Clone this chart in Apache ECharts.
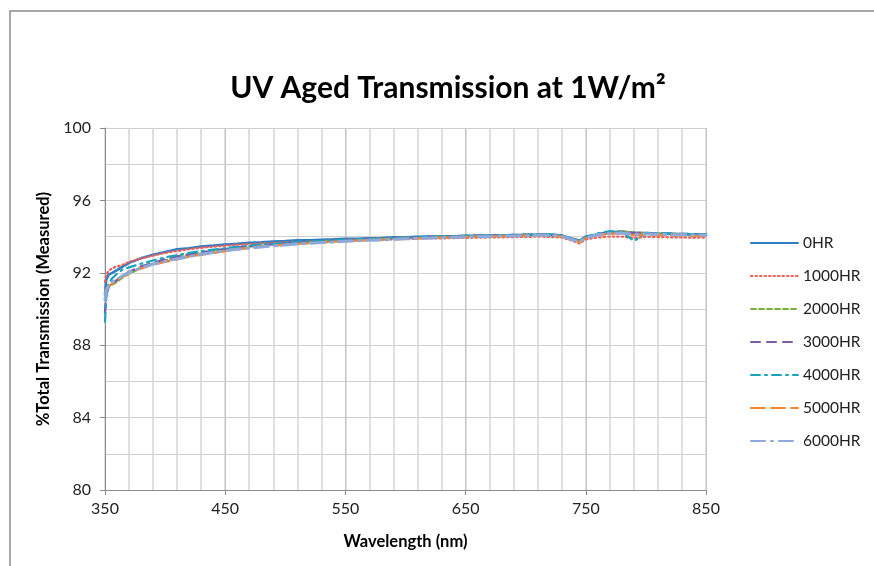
<!DOCTYPE html>
<html lang="en">
<head>
    <meta charset="UTF-8">
    <title>UV Aged Transmission</title>
    <script src="https://cdn.jsdelivr.net/npm/echarts@6/dist/echarts.min.js"></script>
    <style>
        html, body { margin: 0; padding: 0; background: #fff; }
        #main { width: 874px; height: 566px; }
    </style>
</head>
<body>
<div id="main"></div>
<script>
    // wavelength (nm)
    var wavelength = [350, 351, 353, 356, 360, 365, 370, 380, 390, 400, 410, 420, 430, 440, 450, 460, 470, 480, 490, 500,
        510, 520, 530, 540, 550, 560, 570, 580, 590, 600, 610, 620, 630, 640, 650, 660, 670, 680, 690, 700,
        710, 720, 730, 740, 745, 750, 760, 770, 780, 790, 800, 810, 820, 830, 840, 850];

    var hr0 = [90.8, 91.6, 91.9, 92.0, 92.15, 92.35, 92.55, 92.8, 93.0, 93.15, 93.3, 93.36, 93.45, 93.5, 93.56, 93.6, 93.66, 93.68, 93.73, 93.75,
        93.79, 93.8, 93.83, 93.85, 93.88, 93.88, 93.91, 93.92, 93.96, 93.96, 93.99, 94.0, 94.01, 94.02, 94.04, 94.05, 94.06, 94.06, 94.09, 94.08,
        94.11, 94.1, 94.06, 93.86, 93.78, 94.0, 94.12, 94.2, 94.26, 94.2, 94.19, 94.15, 94.16, 94.12, 94.13, 94.1];
    var hr1000 = [91.5, 91.9, 92.1, 92.25, 92.35, 92.45, 92.6, 92.8, 92.95, 93.1, 93.2, 93.3, 93.38, 93.44, 93.5, 93.55, 93.58, 93.62, 93.65, 93.68,
        93.7, 93.72, 93.75, 93.76, 93.78, 93.8, 93.82, 93.83, 93.85, 93.86, 93.88, 93.9, 93.9, 93.92, 93.93, 93.94, 93.95, 93.96, 93.97, 93.98,
        94.0, 93.98, 93.95, 93.74, 93.62, 93.85, 93.95, 94.0, 94.0, 93.92, 93.98, 93.97, 93.96, 93.95, 93.94, 93.95];
    var hr2000 = [90.6, 91.0, 91.2, 91.35, 91.5, 91.75, 91.95, 92.25, 92.5, 92.68, 92.85, 93.0, 93.1, 93.2, 93.3, 93.38, 93.45, 93.52, 93.57, 93.62,
        93.67, 93.7, 93.75, 93.78, 93.82, 93.85, 93.87, 93.9, 93.92, 93.95, 93.97, 93.98, 94.0, 94.02, 94.03, 94.05, 94.06, 94.07, 94.08, 94.1,
        94.1, 94.12, 94.05, 93.85, 93.75, 93.95, 94.15, 94.25, 94.3, 94.22, 94.2, 94.18, 94.17, 94.15, 94.13, 94.12];
    var hr3000 = [89.8, 90.8, 91.2, 91.4, 91.6, 91.85, 92.05, 92.35, 92.55, 92.75, 92.9, 93.02, 93.12, 93.22, 93.32, 93.4, 93.47, 93.53, 93.58, 93.63,
        93.68, 93.72, 93.76, 93.8, 93.83, 93.86, 93.88, 93.9, 93.93, 93.95, 93.97, 93.99, 94.01, 94.02, 94.04, 94.05, 94.07, 94.08, 94.09, 94.1,
        94.11, 94.12, 94.06, 93.82, 93.72, 93.95, 94.15, 94.22, 94.25, 94.2, 94.2, 94.17, 94.16, 94.15, 94.14, 94.12];
    var hr4000 = [89.3, 90.6, 91.4, 91.7, 91.95, 92.2, 92.3, 92.5, 92.68, 92.85, 92.98, 93.1, 93.2, 93.28, 93.36, 93.43, 93.5, 93.56, 93.6, 93.65,
        93.7, 93.73, 93.77, 93.8, 93.83, 93.86, 93.88, 93.9, 93.93, 93.95, 93.97, 93.99, 94.0, 94.02, 94.04, 94.05, 94.06, 94.08, 94.09, 94.1,
        94.12, 94.13, 94.07, 93.84, 93.76, 93.98, 94.18, 94.3, 94.28, 93.75, 94.2, 94.18, 94.16, 94.15, 94.14, 94.13];
    var hr5000 = [90.9, 91.1, 91.25, 91.4, 91.6, 91.8, 92.0, 92.25, 92.45, 92.6, 92.75, 92.9, 93.0, 93.1, 93.2, 93.3, 93.38, 93.45, 93.5, 93.55,
        93.6, 93.64, 93.68, 93.72, 93.75, 93.78, 93.8, 93.83, 93.86, 93.88, 93.9, 93.92, 93.94, 93.96, 93.98, 94.0, 94.01, 94.02, 94.04, 94.05,
        94.06, 94.07, 94.0, 93.8, 93.7, 93.92, 94.1, 94.15, 94.2, 94.08, 94.12, 94.1, 94.08, 94.06, 94.04, 94.03];
    var hr6000 = [90.5, 91.0, 91.3, 91.5, 91.65, 91.85, 92.02, 92.28, 92.48, 92.63, 92.78, 92.9, 93.02, 93.12, 93.22, 93.3, 93.37, 93.43, 93.49, 93.54,
        93.59, 93.63, 93.67, 93.7, 93.74, 93.77, 93.8, 93.82, 93.85, 93.88, 93.9, 93.92, 93.94, 93.96, 93.98, 94.0, 94.01, 94.03, 94.04, 94.05,
        94.07, 94.08, 94.02, 93.8, 93.72, 93.93, 94.1, 94.18, 94.2, 94.12, 94.15, 94.13, 94.11, 94.1, 94.09, 94.08];

    var seriesNames = ['0HR', '1000HR', '2000HR', '3000HR', '4000HR', '5000HR', '6000HR'];
    var seriesValues = [hr0, hr1000, hr2000, hr3000, hr4000, hr5000, hr6000];
    var colors = ['#2f7ec2', '#f0605a', '#7cae3e', '#7d5aa6', '#1ba3be', '#f5842c', '#8eaadc'];
    var dashes = ['solid', [1.5, 3], [5, 3], [9, 7], [9, 5, 2, 5], [14, 6], [14, 6, 2, 6]];
    var widths = [2.6, 2.2, 2.2, 2.4, 2.2, 2.4, 3];

    var FONT = 'Lato, "Open Sans", sans-serif';

    function pairs(vals) {
        return wavelength.map(function (w, i) { return [w, vals[i]]; });
    }

    var series = seriesNames.map(function (name, i) {
        return {
            name: name,
            type: 'line',
            xAxisIndex: 0,
            yAxisIndex: 0,
            symbol: 'none',
            smooth: false,
            data: pairs(seriesValues[i]),
            lineStyle: { color: colors[i], width: widths[i], type: dashes[i], cap: 'round' },
            itemStyle: { color: colors[i] }
        };
    });

    var myChart = echarts.init(document.getElementById('main'));
    var option = {
        backgroundColor: '#fff',
        animation: false,
        title: {
            text: 'UV Aged Transmission at 1W/m²',
            left: 443,
            top: 68,
            textAlign: 'center',
            textStyle: { fontFamily: FONT, fontSize: 30, fontWeight: 'bold', color: '#000' }
        },
        graphic: [{
            type: 'rect',
            shape: { x: 10, y: 11, width: 900, height: 600 },
            style: { fill: 'none', stroke: '#8a8a8a', lineWidth: 1.5 },
            silent: true
        }],
        legend: {
            orient: 'vertical',
            left: 745,
            top: 230,
            itemWidth: 47,
            itemHeight: 14,
            itemGap: 17,
            data: seriesNames,
            itemStyle: { opacity: 0 },
            textStyle: { fontFamily: FONT, fontSize: 15.5, color: '#222' }
        },
        grid: {
            left: 105, right: 168, top: 128, bottom: 76,
            outerBoundsMode: 'none'
        },
        xAxis: [{
            type: 'value',
            min: 350, max: 850, interval: 100,
            name: 'Wavelength (nm)',
            nameLocation: 'middle',
            nameGap: 43,
            nameTextStyle: { fontFamily: FONT, fontSize: 16.5, fontWeight: 'bold', color: '#000' },
            axisLine: { show: true, lineStyle: { color: '#8c8c8c', width: 1 } },
            axisTick: { show: true, length: 5, lineStyle: { color: '#8c8c8c' } },
            axisLabel: { fontFamily: FONT, fontSize: 16, color: '#222', margin: 11 },
            splitLine: { show: true, lineStyle: { color: '#9c9c9c', width: 1 } }
        }, {
            type: 'value',
            min: 350, max: 850, interval: 20,
            position: 'bottom',
            axisLine: { show: false },
            axisTick: { show: false },
            axisLabel: { show: false },
            splitLine: { show: true, lineStyle: { color: '#d4d4d4', width: 1.5 } }
        }],
        yAxis: [{
            type: 'value',
            min: 80, max: 100, interval: 4,
            name: '%Total Transmission (Measured)',
            nameLocation: 'middle',
            nameGap: 52,
            nameTextStyle: { fontFamily: FONT, fontSize: 16.5, fontWeight: 'bold', color: '#000' },
            axisLine: { show: true, lineStyle: { color: '#8c8c8c', width: 1 } },
            axisTick: { show: true, length: 5, lineStyle: { color: '#8c8c8c' } },
            axisLabel: { fontFamily: FONT, fontSize: 16, color: '#222', margin: 14 },
            splitLine: { show: true, lineStyle: { color: '#9c9c9c', width: 1 } }
        }, {
            type: 'value',
            min: 80, max: 100, interval: 2,
            position: 'left',
            axisLine: { show: false },
            axisTick: { show: false },
            axisLabel: { show: false },
            splitLine: { show: true, lineStyle: { color: '#cfcfcf', width: 1 } }
        }],
        series: series
    };

    if (option && typeof option === "object") {
        myChart.setOption(option, true);
    }
</script>
</body>
</html>
